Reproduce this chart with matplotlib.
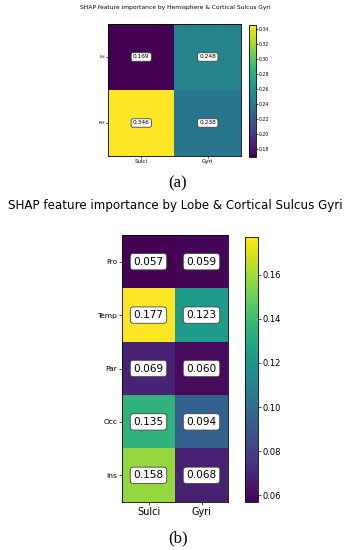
import matplotlib
matplotlib.use('Agg')
import matplotlib.pyplot as plt
import numpy as np

# data
cols = ['Sulci', 'Gyri']
hemi_rows = ['LH', 'RH']
hemi_vals = [[0.169, 0.248],
             [0.346, 0.238]]
lobe_rows = ['Fro', 'Temp', 'Par', 'Occ', 'Ins']
lobe_vals = [[0.057, 0.059],
             [0.177, 0.123],
             [0.069, 0.060],
             [0.135, 0.094],
             [0.158, 0.068]]

W, H = 347, 550
fig = plt.figure(figsize=(W / 100, H / 100), dpi=100)


def px_axes(x0, y0, x1, y1):
    # pixel box (top-left origin) -> figure fraction
    return fig.add_axes([x0 / W, 1 - y1 / H, (x1 - x0) / W, (y1 - y0) / H])


def heatmap(ax, cax, vals, rows, fs_tick, fs_xtick, fs_cell, fs_cbar, pad, tlen):
    arr = np.array(vals)
    im = ax.imshow(arr, cmap='viridis', aspect='auto')
    ax.set_xticks(range(len(cols)))
    ax.set_xticklabels(cols, fontsize=fs_xtick)
    ax.set_yticks(range(len(rows)))
    ax.set_yticklabels(rows, fontsize=fs_tick)
    ax.tick_params(length=tlen, width=0.5, pad=pad)
    for s in ax.spines.values():
        s.set_linewidth(0.6)
    for i in range(arr.shape[0]):
        for j in range(arr.shape[1]):
            ax.text(j, i, f'{arr[i, j]:.3f}', ha='center', va='center', fontsize=fs_cell,
                    bbox=dict(boxstyle='round,pad=0.3', fc='white', ec='#444444', lw=0.6))
    cb = fig.colorbar(im, cax=cax)
    cb.ax.tick_params(labelsize=fs_cbar, length=tlen, width=0.5, pad=pad)
    cb.outline.set_linewidth(0.6)
    return im


# panel (a)
ax1 = px_axes(108, 24, 241, 156)
cax1 = px_axes(249, 25, 256, 157)
heatmap(ax1, cax1, hemi_vals, hemi_rows, 3.2, 4.0, 4.2, 3.3, 1.0, 1.2)
cax1.set_yticks([0.18, 0.20, 0.22, 0.24, 0.26, 0.28, 0.30, 0.32, 0.34])
fig.text(175 / W, 1 - 8 / H, 'SHAP feature importance by Hemisphere & Cortical Sulcus Gyri',
         ha='center', va='center', fontsize=4.3)
fig.text(178 / W, 1 - 183 / H, '(a)', ha='center', va='center', fontsize=12,
         family='Liberation Serif')

# panel (b)
ax2 = px_axes(122, 235, 228, 502)
cax2 = px_axes(245, 237, 258, 502)
heatmap(ax2, cax2, lobe_vals, lobe_rows, 5.4, 7.0, 7.6, 6.0, 1.5, 2.0)
fig.text(175 / W, 1 - 205 / H, 'SHAP feature importance by Lobe & Cortical Sulcus Gyri',
         ha='center', va='center', fontsize=8.6)
fig.text(178 / W, 1 - 538 / H, '(b)', ha='center', va='center', fontsize=12,
         family='Liberation Serif')

fig.savefig('out.png', dpi=100)
